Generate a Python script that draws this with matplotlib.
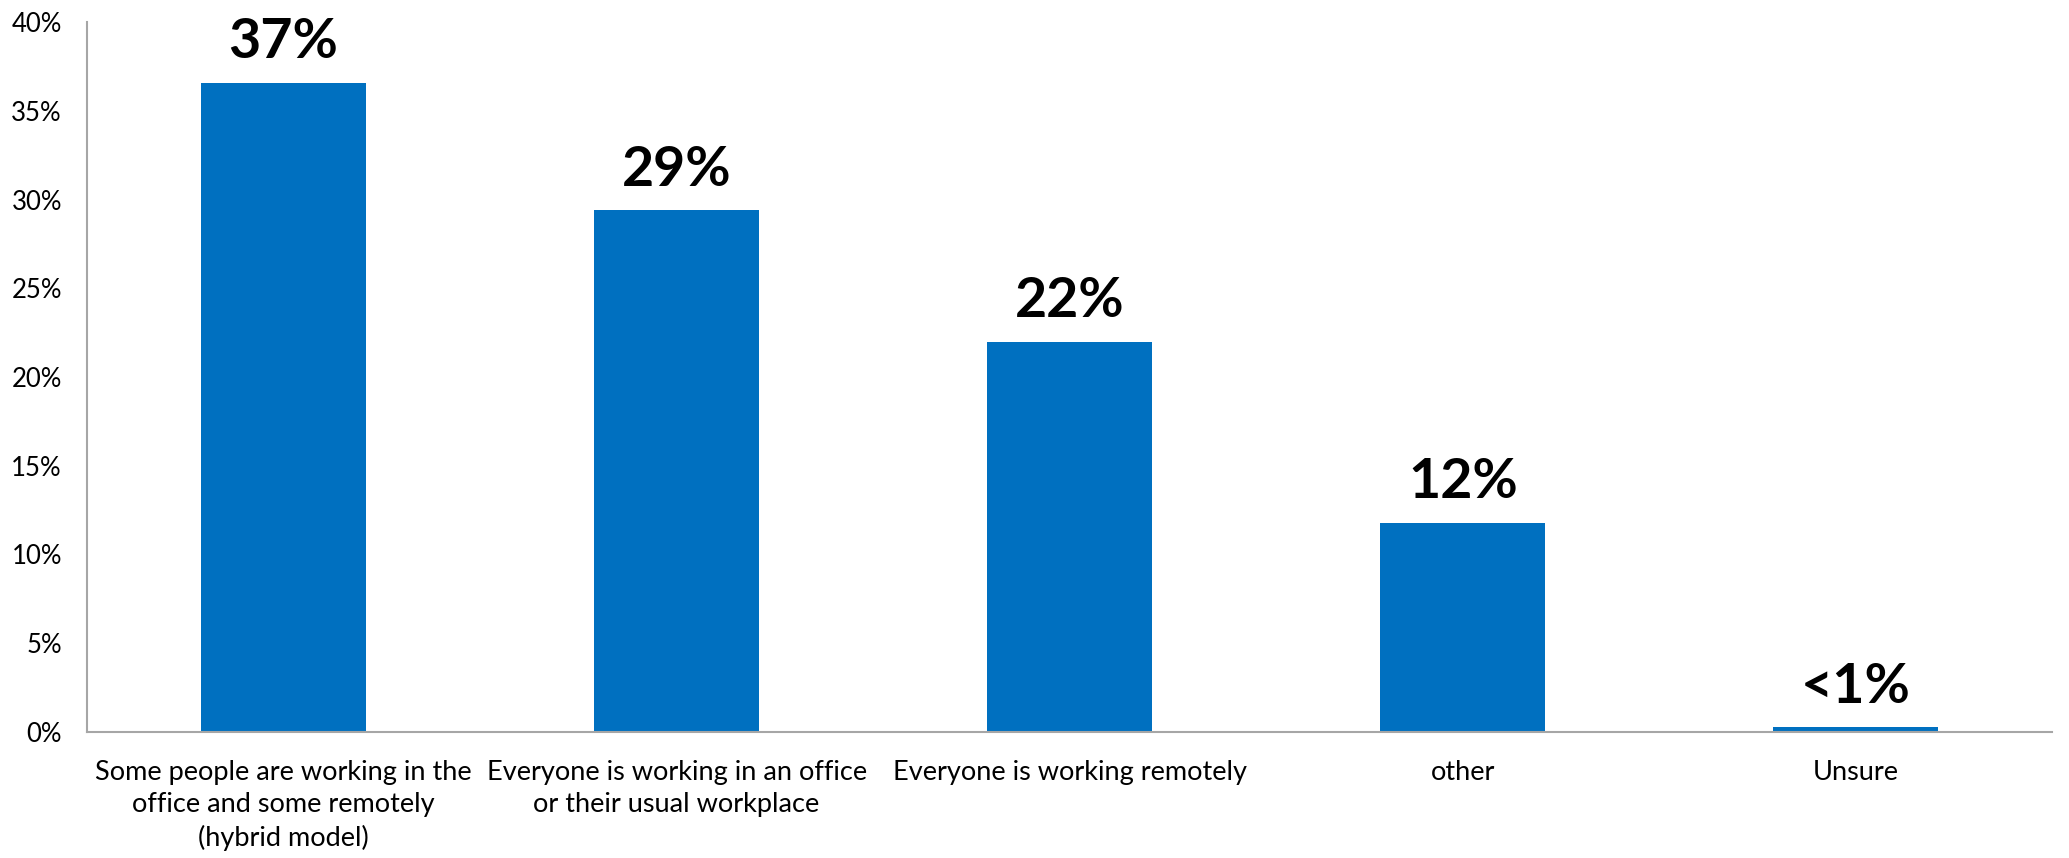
import matplotlib.pyplot as plt
from matplotlib.ticker import FuncFormatter

categories = [
    "Some people are working in the\noffice and some remotely\n(hybrid model)",
    "Everyone is working in an office\nor their usual workplace",
    "Everyone is working remotely",
    "other",
    "Unsure",
]
shares = [36.6, 29.4, 22.0, 11.8, 0.25]
value_labels = ["37%", "29%", "22%", "12%", "<1%"]

plt.rcParams['font.family'] = ['Lato', 'DejaVu Sans']

fig = plt.figure(figsize=(20.69, 8.58), dpi=100)
ax = fig.add_axes([0.042, 0.147, 0.95, 0.827])

x = range(len(categories))
bars = ax.bar(x, shares, width=0.42, color='#0070C0')

for bar, text in zip(bars, value_labels):
    ax.annotate(text, (bar.get_x() + bar.get_width() / 2, bar.get_height()),
                xytext=(0, 11), textcoords='offset points',
                ha='center', va='bottom', fontsize=40, fontweight='bold')

ax.set_xlim(-0.5, 4.5)
ax.set_ylim(0, 40)
ax.set_yticks(range(0, 41, 5))
ax.yaxis.set_major_formatter(FuncFormatter(lambda v, _: f"{v:.0f}%"))
ax.set_xticks(list(x))
ax.set_xticklabels(categories, fontsize=19.5, linespacing=1.36)

ax.tick_params(axis='y', length=0, pad=18, labelsize=18.5)
ax.tick_params(axis='x', length=0, pad=20)

for side in ('top', 'right'):
    ax.spines[side].set_visible(False)
for side in ('left', 'bottom'):
    ax.spines[side].set_color('#A6A6A6')
    ax.spines[side].set_linewidth(1.5)

fig.savefig('out.png', dpi=100)
